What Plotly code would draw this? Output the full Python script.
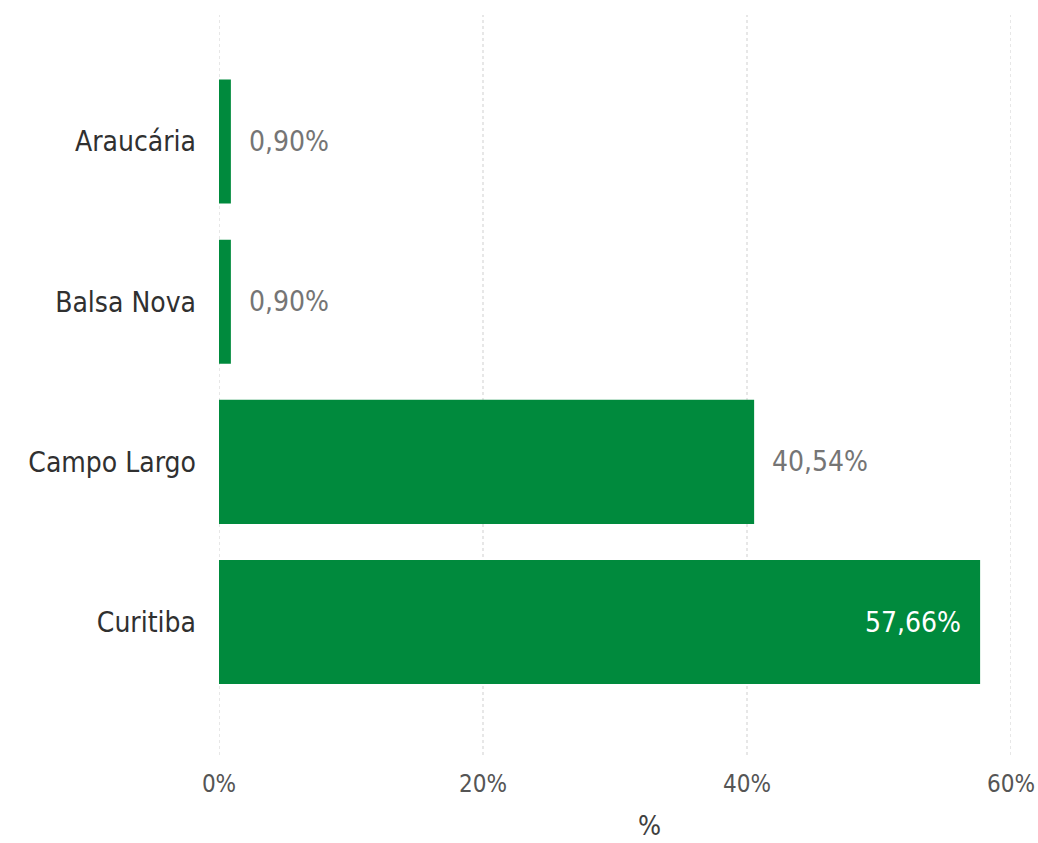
import plotly.graph_objects as go

categories = ["Araucária", "Balsa Nova", "Campo Largo", "Curitiba"]
values = [0.90, 0.90, 40.54, 57.66]
label_inside = [False, False, False, True]
tick_vals = [0, 20, 40, 60]
tick_text = ["0%", "20%", "40%", "60%"]
axis_title = "%"

labels = [f"{v:.2f}%".replace(".", ",") for v in values]

FONT = "DejaVu Sans Condensed, Liberation Sans Narrow, sans-serif"

fig = go.Figure(go.Bar(
    x=values,
    y=categories,
    orientation="h",
    marker=dict(color="#008A3D", line=dict(width=0)),
    hoverinfo="skip",
))

# dotted vertical gridlines at each tick (including the edges of the range)
for tv in tick_vals:
    fig.add_shape(
        type="line", xref="x", yref="paper",
        x0=tv, x1=tv, y0=0, y1=1,
        line=dict(color="#cfcfcf", width=1, dash="dot"),
        layer="below",
    )

for cat, v, lab, inside in zip(categories, values, labels, label_inside):
    fig.add_annotation(
        x=v, y=cat, xref="x", yref="y",
        text=lab, showarrow=False,
        xanchor="right" if inside else "left",
        xshift=-17 if inside else 16,
        font=dict(family=FONT, size=28, color="#ffffff" if inside else "#757575"),
    )

# axis title, placed like the reference (slightly right of centre)
fig.add_annotation(
    x=0.544, y=-0.095, xref="paper", yref="paper",
    text=axis_title, showarrow=False,
    xanchor="center", yanchor="middle",
    font=dict(family=FONT, size=27, color="#404040"),
)

fig.update_layout(
    width=1038,
    height=843,
    margin=dict(l=219, r=27, t=15, b=88),
    paper_bgcolor="white",
    plot_bgcolor="white",
    bargap=0.225,
    showlegend=False,
    font=dict(family=FONT),
)

fig.update_xaxes(
    range=[0, 60],
    tickvals=tick_vals,
    ticktext=tick_text,
    automargin=False,
    showgrid=False,
    zeroline=False,
    showline=False,
    tickfont=dict(family=FONT, size=24, color="#555555"),
    ticklabelstandoff=12,
)

fig.update_yaxes(
    categoryorder="array",
    categoryarray=categories,
    range=[3.83, -0.79],
    automargin=False,
    showgrid=False,
    zeroline=False,
    showline=False,
    tickfont=dict(family=FONT, size=28, color="#303030"),
    ticklabelstandoff=22,
)

fig.write_html(
    "out.html",
    config={"displayModeBar": False},
    post_script="document.body.style.margin='0';",
)
